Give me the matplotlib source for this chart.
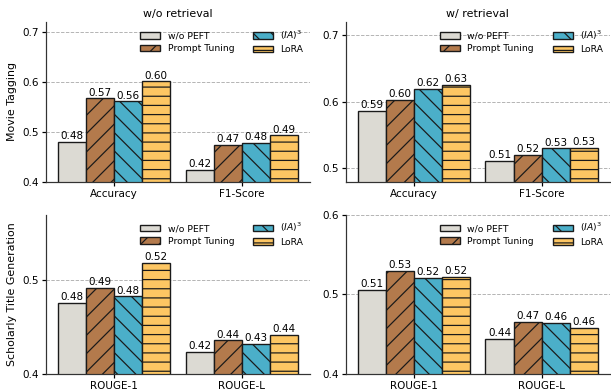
import numpy as np
import matplotlib.pyplot as plt

# methods / styles
methods = ["w/o PEFT", "Prompt Tuning", "$(IA)^3$", "LoRA"]
colors = ["#dcdad3", "#b37a4c", "#4bafc9", "#fdc663"]
hatches = ["", "//", "\\\\", "--"]

# top row: Movie Tagging (Accuracy, F1-Score)
mt_metrics = ["Accuracy", "F1-Score"]
mt_no_ret = [[0.480, 0.567, 0.561, 0.601], [0.424, 0.474, 0.478, 0.493]]
mt_ret = [[0.586, 0.603, 0.620, 0.626], [0.511, 0.520, 0.530, 0.531]]

# bottom row: Scholarly Title Generation (ROUGE-1, ROUGE-L)
st_metrics = ["ROUGE-1", "ROUGE-L"]
st_no_ret = [[0.476, 0.492, 0.483, 0.519], [0.424, 0.436, 0.432, 0.442]]
st_ret = [[0.506, 0.530, 0.521, 0.522], [0.444, 0.466, 0.464, 0.458]]

plt.rcParams["hatch.linewidth"] = 0.8

DPI = 110
fig, axs = plt.subplots(2, 2, figsize=(611 / DPI, 391 / DPI), dpi=DPI)
fig.subplots_adjust(left=0.0753, right=0.998, bottom=0.0427, top=0.9437,
                    wspace=0.136, hspace=0.206)


def draw_panel(ax, metrics, values, ylim, yticks):
    x = np.arange(len(metrics))
    width = 0.22
    vals = np.array(values)
    for i, m in enumerate(methods):
        bars = ax.bar(x + (i - 1.5) * width, vals[:, i], width,
                      color=colors[i], hatch=hatches[i], edgecolor="#1a1a1a",
                      linewidth=0.9, label=m, zorder=2)
        ax.bar_label(bars, fmt="%.2f", padding=0.5, fontsize=6.8)
    ax.set_ylim(*ylim)
    ax.set_yticks(yticks)
    ax.set_yticklabels([f"{t:.1f}" for t in yticks])
    ax.set_xticks(x)
    ax.set_xticklabels(metrics)
    ax.tick_params(labelsize=6.8, length=2.5, width=0.8, pad=2)
    ax.yaxis.grid(True, linestyle="--", color="#b0b0b0", linewidth=0.6, zorder=0)
    ax.set_axisbelow(True)
    for s in ["top", "right"]:
        ax.spines[s].set_visible(False)
    for s in ["left", "bottom"]:
        ax.spines[s].set_color("#333333")
        ax.spines[s].set_linewidth(0.8)
    ax.legend(ncol=2, frameon=False, fontsize=6.05, loc="upper right",
              handlelength=2.2, borderaxespad=0.3, labelspacing=0.35)


draw_panel(axs[0, 0], mt_metrics, mt_no_ret, (0.4, 0.72), [0.4, 0.5, 0.6, 0.7])
draw_panel(axs[0, 1], mt_metrics, mt_ret, (0.48, 0.72), [0.5, 0.6, 0.7])
draw_panel(axs[1, 0], st_metrics, st_no_ret, (0.4, 0.57), [0.4, 0.5])
draw_panel(axs[1, 1], st_metrics, st_ret, (0.4, 0.6), [0.4, 0.5, 0.6])

axs[0, 0].set_title("w/o retrieval", fontsize=7.2, pad=3)
axs[0, 1].set_title("w/ retrieval", fontsize=7.2, pad=3)
axs[0, 0].set_ylabel("Movie Tagging", fontsize=7.2)
axs[1, 0].set_ylabel("Scholarly Title Generation", fontsize=7.2)

fig.savefig("out.png", dpi=DPI)
